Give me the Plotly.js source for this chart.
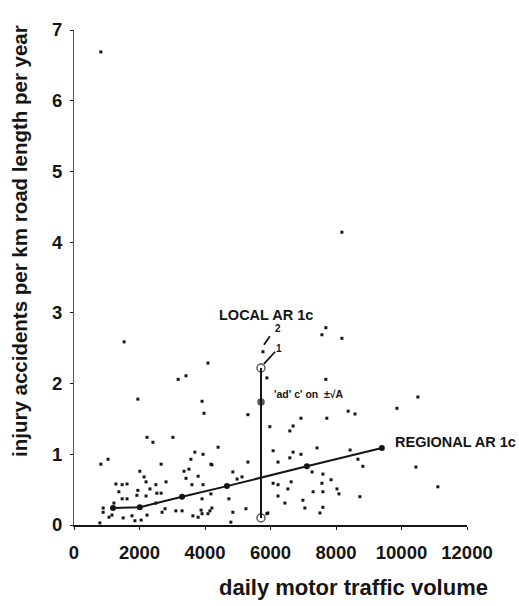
<!DOCTYPE html>
<html>
<head>
<meta charset="utf-8">
<script src="https://cdn.plot.ly/plotly-3.0.1.min.js"></script>
<style>html,body{margin:0;padding:0;background:#fff;}#chart{width:519px;height:606px;}</style>
</head>
<body>
<div id="chart"></div>
<script>
// Scatter: individual road sections
const trafficVolume = [820,8180,1530,7690,7570,8180,5770,5890,3180,3420,4090,7690,1950,3910,3970,10500,9860,8370,8580,5310,6930,7720,5980,6690,6590,2230,2410,3020,
7420,6080,6690,6930,6590,6230,8430,8670,8820,10440,5310,4400,4210,820,1040,2660,3690,3940,3570,4180,2010,3360,2140,3510,3790,3420,2200,2810,1280,1470,1620,2500,3600,3940,
1950,1370,2320,2530,2660,4180,1920,2200,1470,1620,1220,2500,3910,890,890,2780,3110,3300,3880,3910,4150,1160,1500,1770,1860,2050,2230,1070,2690,790,3630,3790,4090,
4850,5130,4980,6080,6230,6630,6530,7570,7300,7600,6230,4730,6990,6440,4210,5250,7050,4850,7600,7510,5890,4790,7270,7600,7850,8030,8090,8730,11110,5920];
const accidentRate = [6.69,4.14,2.59,2.79,2.69,2.64,2.45,2.08,2.06,2.11,2.29,2.06,1.78,1.75,1.58,1.81,1.65,1.61,1.57,1.56,1.51,1.51,1.39,1.40,1.33,1.24,1.17,1.24,
1.09,1.05,1.03,1.00,0.95,0.89,1.06,0.93,0.83,0.82,0.89,1.10,0.85,0.86,0.93,0.86,1.03,1.00,0.93,0.86,0.76,0.76,0.68,0.79,0.69,0.66,0.61,0.61,0.58,0.57,0.58,0.57,0.57,0.57,
0.49,0.47,0.51,0.45,0.45,0.44,0.42,0.41,0.37,0.37,0.31,0.31,0.37,0.24,0.18,0.23,0.20,0.20,0.21,0.16,0.20,0.14,0.10,0.13,0.06,0.07,0.14,0.11,0.18,0.03,0.13,0.11,0.16,
0.75,0.68,0.65,0.59,0.57,0.61,0.51,0.59,0.47,0.47,0.41,0.37,0.35,0.31,0.24,0.23,0.24,0.18,0.25,0.17,0.16,0.04,0.75,0.72,0.64,0.51,0.44,0.40,0.54,0.17];

// Regional AR 1c (class means)
const regionalX = [1190, 2010, 3300, 4670, 7110, 9400];
const regionalY = [0.24, 0.25, 0.40, 0.55, 0.83, 1.09];

// Local AR 1c (vertical)
const localX = [5710, 5710, 5710];
const localY = [2.22, 1.74, 0.10];

// leader lines to labels 1 and 2
const leader1X = [5800, 6140], leader1Y = [2.28, 2.45];
const leader2X = [5800, 5980], leader2Y = [2.55, 2.67];

const xTicks = [0, 2000, 4000, 6000, 8000, 10000, 12000];
const yTicks = [0, 1, 2, 3, 4, 5, 6, 7];

const FONT = 'Liberation Sans, Arial, Helvetica, sans-serif';
const INK = '#151515';

const traces = [
  {x: trafficVolume, y: accidentRate, mode: 'markers', type: 'scatter',
   marker: {size: 3, color: INK, symbol: 'square'}, cliponaxis: false, hoverinfo: 'skip'},
  {x: regionalX, y: regionalY, mode: 'lines+markers', type: 'scatter',
   line: {color: INK, width: 2}, marker: {size: 6, color: INK}, cliponaxis: false},
  {x: localX, y: localY, mode: 'lines+markers', type: 'scatter',
   line: {color: INK, width: 2},
   marker: {size: [8, 6, 8], color: INK, symbol: ['circle-open', 'circle', 'circle-open'], line: {width: 1.5, color: INK}},
   cliponaxis: false},
  {x: leader1X, y: leader1Y, mode: 'lines', line: {color: INK, width: 1.8}},
  {x: leader2X, y: leader2Y, mode: 'lines', line: {color: INK, width: 1.8}}
];

const layout = {
  width: 519, height: 606,
  margin: {l: 74, r: 52, t: 30, b: 81},
  paper_bgcolor: '#fff', plot_bgcolor: '#fff',
  showlegend: false,
  font: {family: FONT, color: INK},
  xaxis: {
    range: [0, 12000], tickvals: xTicks, ticktext: xTicks.map(String),
    showgrid: false, zeroline: false, showline: true, linecolor: INK, linewidth: 2,
    ticks: 'outside', ticklen: 3, tickcolor: INK, ticklabelstandoff: 7,
    tickfont: {family: FONT, size: 18.5, weight: 'bold', color: INK}
  },
  yaxis: {
    range: [0, 7], tickvals: yTicks, ticktext: yTicks.map(String),
    showgrid: false, zeroline: false, showline: true, linecolor: '#555', linewidth: 1,
    ticks: 'outside', ticklen: 3, tickcolor: INK, ticklabelstandoff: 4,
    tickfont: {family: FONT, size: 18.5, weight: 'bold', color: INK}
  },
  annotations: [
    {xref: 'paper', yref: 'paper', x: -0.137, y: 0.574, xanchor: 'center', yanchor: 'middle',
     text: 'injury accidents per km road length per year',
     textangle: -90, showarrow: false, font: {family: FONT, size: 20.5, weight: 'bold', color: INK}},
    {xref: 'paper', yref: 'paper', x: 0.71, y: -0.127, xanchor: 'center', yanchor: 'middle',
     text: 'daily motor traffic volume',
     showarrow: false, font: {family: FONT, size: 22, weight: 'bold', color: INK}},
    {x: 5860, y: 2.97, text: 'LOCAL AR 1c', showarrow: false, xanchor: 'center',
     font: {family: FONT, size: 14.5, weight: 'bold', color: INK}},
    {x: 9740, y: 1.17, text: 'REGIONAL AR 1c', showarrow: false, xanchor: 'left',
     font: {family: FONT, size: 14.5, weight: 'bold', color: INK}},
    {x: 6260, y: 2.50, text: '1', showarrow: false, font: {family: FONT, size: 10, weight: 'bold', color: INK}},
    {x: 6230, y: 2.78, text: '2', showarrow: false, font: {family: FONT, size: 10, weight: 'bold', color: INK}},
    {x: 6040, y: 1.85, text: "'ad' c' on  ±√A", showarrow: false, xanchor: 'left',
     font: {family: FONT, size: 10.5, weight: 'bold', color: INK}}
  ]
};

Plotly.newPlot('chart', traces, layout, {staticPlot: true, displayModeBar: false});
</script>
</body>
</html>
